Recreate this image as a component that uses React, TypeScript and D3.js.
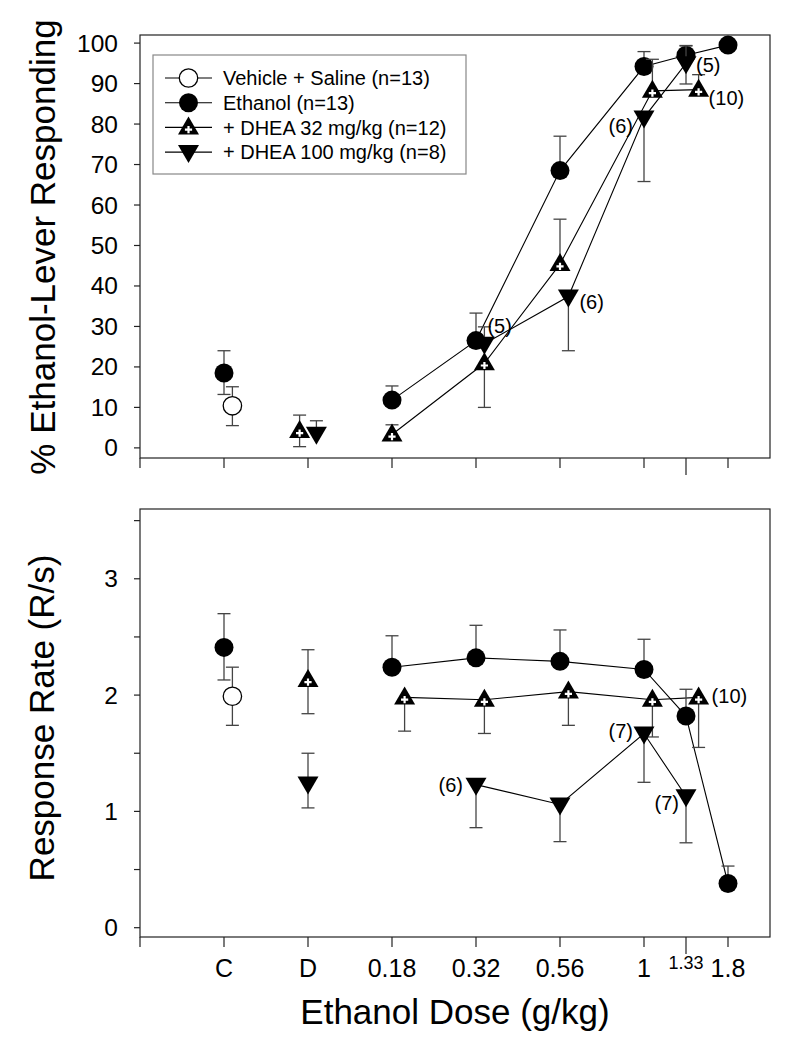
import React from "react";
import * as d3 from "d3";

// ---------- categories / ticks ----------
const categories = ["C", "D", "0.18", "0.32", "0.56", "1", "1.33", "1.8"];
const categoryPos = [1, 2, 3, 4, 5, 6, 6.5, 7];
const xTickPos = [0, 1, 2, 3, 4, 5, 6, 6.5, 7];
const topYTicks = [0, 10, 20, 30, 40, 50, 60, 70, 80, 90, 100];
const botYTicks = [0, 0.5, 1, 1.5, 2, 2.5, 3, 3.5];
const botYLabels = [0, 1, 2, 3];

const legendLabels = [
  "Vehicle + Saline (n=13)",
  "Ethanol (n=13)",
  "+ DHEA 32 mg/kg (n=12)",
  "+ DHEA 100 mg/kg (n=8)",
];
const legendKinds = ["open", "circle", "up", "down"];

// ---------- top panel: % ethanol-lever responding ----------
const topVehicleX = [1.1];
const topVehicleY = [10.4];
const topVehicleUp = [4.7];
const topVehicleDown = [4.9];

const topEthanolX = [1, 3, 4, 5, 6, 6.5, 7];
const topEthanolY = [18.5, 11.8, 26.5, 68.5, 94.2, 97.0, 99.5];
const topEthanolUp = [5.5, 3.5, 6.8, 8.5, 3.7, 2.4, 0];
const topEthanolDown = [5.3, 0, 0, 0, 0, 0, 0];

const topDhea32X = [1.9, 3, 4.1, 5, 6.1, 6.65];
const topDhea32Y = [4.2, 3.3, 20.9, 45.4, 88.2, 88.5];
const topDhea32Up = [3.9, 2.4, 0, 11.1, 7.8, 3.7];
const topDhea32Down = [3.9, 0, 10.9, 0, 0, 0];

const topDhea100X = [2.1, 4.1, 5.1, 6, 6.5];
const topDhea100Y = [3.5, 25.7, 37.4, 81.6, 95.0];
const topDhea100Up = [3.2, 4.2, 0, 0, 4.3];
const topDhea100Down = [0, 0, 13.4, 15.8, 5.1];

// ---------- bottom panel: response rate ----------
const botVehicleX = [1.1];
const botVehicleY = [1.99];
const botVehicleUp = [0.25];
const botVehicleDown = [0.25];

const botEthanolX = [1, 3, 4, 5, 6, 6.5, 7];
const botEthanolY = [2.41, 2.24, 2.32, 2.29, 2.22, 1.82, 0.38];
const botEthanolUp = [0.29, 0.27, 0.28, 0.27, 0.26, 0.23, 0.15];
const botEthanolDown = [0.28, 0, 0, 0, 0, 0, 0];

const botDhea32X = [2, 3.15, 4.1, 5.1, 6.1, 6.65];
const botDhea32Y = [2.13, 1.98, 1.96, 2.03, 1.96, 1.98];
const botDhea32Up = [0.26, 0, 0, 0, 0, 0];
const botDhea32Down = [0.29, 0.29, 0.29, 0.29, 0.32, 0.43];

const botDhea100X = [2, 4, 5, 6, 6.5];
const botDhea100Y = [1.24, 1.23, 1.06, 1.67, 1.13];
const botDhea100Up = [0.26, 0, 0, 0, 0];
const botDhea100Down = [0.21, 0.37, 0.32, 0.42, 0.4];

// n annotations: [series, point index, text]
const topNotes: [string, number, string][] = [
  ["dhea100", 1, "(5)"],
  ["dhea100", 2, "(6)"],
  ["dhea100", 3, "(6)"],
  ["dhea100", 4, "(5)"],
  ["dhea32", 5, "(10)"],
];
const botNotes: [string, number, string][] = [
  ["dhea100", 1, "(6)"],
  ["dhea100", 3, "(7)"],
  ["dhea100", 4, "(7)"],
  ["dhea32", 5, "(10)"],
];
// label placement relative to its point (layout only)
const topNoteLayout = [
  { dx: 3, dy: -18, anchor: "start" },
  { dx: 11, dy: 6, anchor: "start" },
  { dx: -11, dy: 8, anchor: "end" },
  { dx: 10, dy: 2, anchor: "start" },
  { dx: 10, dy: 8, anchor: "start" },
];
const botNoteLayout = [
  { dx: -13, dy: 0, anchor: "end" },
  { dx: -11, dy: -2, anchor: "end" },
  { dx: -7, dy: 7, anchor: "end" },
  { dx: 13, dy: -1, anchor: "start" },
];

const FONT = "'Liberation Sans', Arial, Helvetica, sans-serif";
const ERR = "#444";

type Series = {
  key: string;
  kind: string;
  x: number[];
  y: number[];
  up: number[];
  down: number[];
  lineStart: number; // first index joined by the line (-1 = none)
};

function Marker({ kind, cx, cy }: { kind: string; cx: number; cy: number }) {
  if (kind === "circle") return <circle cx={cx} cy={cy} r={9.5} fill="#000" />;
  if (kind === "open")
    return <circle cx={cx} cy={cy} r={9.2} fill="#fff" stroke="#000" strokeWidth={1.3} />;
  if (kind === "up")
    return (
      <g transform={`translate(${cx},${cy})`}>
        <path d="M0,-11 L10.5,7 L-10.5,7 Z" fill="#000" />
        <path d="M-3.6,2.2 H3.6 M0,-1.4 V5.8" stroke="#fff" strokeWidth={2.2} />
      </g>
    );
  return (
    <g transform={`translate(${cx},${cy})`}>
      <path d="M0,11 L10.5,-7 L-10.5,-7 Z" fill="#000" />
    </g>
  );
}

const L = 140,
  R = 770;
const xScale = d3.scaleLinear().domain([0, 7.5]).range([L, R]);
const yTop = d3.scaleLinear().domain([-2.5, 102]).range([458, 35]);
const yBot = d3.scaleLinear().domain([-0.08, 3.6]).range([937, 509]);

function Panel({
  series,
  y,
  notes,
  layout,
}: {
  series: Series[];
  y: d3.ScaleLinear<number, number>;
  notes: [string, number, string][];
  layout: { dx: number; dy: number; anchor: string }[];
}) {
  const x = xScale;
  const line = d3
    .line<[number, number]>()
    .x((d) => x(d[0]))
    .y((d) => y(d[1]));
  return (
    <g>
      {series.map((s) =>
        s.lineStart >= 0 ? (
          <path
            key={"l" + s.key}
            d={line(s.x.slice(s.lineStart).map((v, i) => [v, s.y[i + s.lineStart]]) as [number, number][]) || ""}
            fill="none"
            stroke="#000"
            strokeWidth={1.1}
          />
        ) : null
      )}
      {series.map((s) => (
        <g key={"s" + s.key}>
          {s.x.map((xv, i) => {
            const cx = x(xv);
            const cy = y(s.y[i]);
            const parts = [];
            if (s.up[i] > 0) {
              const ty = y(s.y[i] + s.up[i]);
              parts.push(
                <g key="u">
                  <line x1={cx} x2={cx} y1={cy} y2={ty} stroke={ERR} strokeWidth={1.3} />
                  <line x1={cx - 6.5} x2={cx + 6.5} y1={ty} y2={ty} stroke={ERR} strokeWidth={1.3} />
                </g>
              );
            }
            if (s.down[i] > 0) {
              const by = y(s.y[i] - s.down[i]);
              parts.push(
                <g key="d">
                  <line x1={cx} x2={cx} y1={cy} y2={by} stroke={ERR} strokeWidth={1.3} />
                  <line x1={cx - 6.5} x2={cx + 6.5} y1={by} y2={by} stroke={ERR} strokeWidth={1.3} />
                </g>
              );
            }
            return <g key={i}>{parts}</g>;
          })}
          {s.x.map((xv, i) => (
            <Marker key={"m" + i} kind={s.kind} cx={x(xv)} cy={y(s.y[i])} />
          ))}
        </g>
      ))}
      {notes.map(([key, idx, text], k) => {
        const s = series.find((q) => q.key === key)!;
        const lay = layout[k];
        return (
          <text
            key={"n" + k}
            x={x(s.x[idx]) + lay.dx}
            y={y(s.y[idx]) + lay.dy + 7}
            textAnchor={lay.anchor as any}
            fontSize={20}
            fontFamily={FONT}
          >
            {text}
          </text>
        );
      })}
    </g>
  );
}

function Frame({ top, bottom }: { top: number; bottom: number }) {
  return (
    <g>
      <rect x={L} y={top} width={R - L} height={bottom - top} fill="none" stroke="#222" strokeWidth={1.2} />
      {xTickPos.map((t) => (
        <line
          key={t}
          x1={xScale(t)}
          x2={xScale(t)}
          y1={bottom}
          y2={bottom + (t === 6.5 ? 17 : 10)}
          stroke="#222"
          strokeWidth={1.2}
        />
      ))}
    </g>
  );
}

export default function App() {
  const topSeries: Series[] = [
    { key: "veh", kind: "open", x: topVehicleX, y: topVehicleY, up: topVehicleUp, down: topVehicleDown, lineStart: -1 },
    { key: "eth", kind: "circle", x: topEthanolX, y: topEthanolY, up: topEthanolUp, down: topEthanolDown, lineStart: 1 },
    { key: "dhea32", kind: "up", x: topDhea32X, y: topDhea32Y, up: topDhea32Up, down: topDhea32Down, lineStart: 1 },
    { key: "dhea100", kind: "down", x: topDhea100X, y: topDhea100Y, up: topDhea100Up, down: topDhea100Down, lineStart: 1 },
  ];
  const botSeries: Series[] = [
    { key: "veh", kind: "open", x: botVehicleX, y: botVehicleY, up: botVehicleUp, down: botVehicleDown, lineStart: -1 },
    { key: "eth", kind: "circle", x: botEthanolX, y: botEthanolY, up: botEthanolUp, down: botEthanolDown, lineStart: 1 },
    { key: "dhea32", kind: "up", x: botDhea32X, y: botDhea32Y, up: botDhea32Up, down: botDhea32Down, lineStart: 1 },
    { key: "dhea100", kind: "down", x: botDhea100X, y: botDhea100Y, up: botDhea100Up, down: botDhea100Down, lineStart: 1 },
  ];

  return (
    <svg
      width={792}
      height={1050}
      style={{ position: "absolute", left: 0, top: 0, background: "#fff" }}
      fontFamily={FONT}
    >
      <rect x={0} y={0} width={792} height={1050} fill="#fff" />
      {/* top panel */}
      <Frame top={35} bottom={458} />
      {topYTicks.map((t) => (
        <g key={"ty" + t}>
          <line x1={L - 6} x2={L} y1={yTop(t)} y2={yTop(t)} stroke="#222" strokeWidth={1.2} />
          <text x={118} y={yTop(t) + 8.5} textAnchor="end" fontSize={24.5}>
            {t}
          </text>
        </g>
      ))}
      <text transform={`translate(55,247) rotate(-90)`} textAnchor="middle" fontSize={35}>
        % Ethanol-Lever Responding
      </text>
      <Panel series={topSeries} y={yTop} notes={topNotes} layout={topNoteLayout} />

      {/* legend */}
      <rect x={153} y={55} width={313} height={119} fill="#fff" stroke="#888" strokeWidth={1.2} />
      {legendLabels.map((lab, i) => {
        const cy = 78 + i * 24.7;
        return (
          <g key={"lg" + i}>
            <line x1={165} x2={212} y1={cy} y2={cy} stroke="#000" strokeWidth={1.1} />
            <Marker kind={legendKinds[i]} cx={188.5} cy={cy} />
            <text x={223} y={cy + 7.3} fontSize={20}>
              {lab}
            </text>
          </g>
        );
      })}

      {/* bottom panel */}
      <Frame top={509} bottom={937} />
      {botYTicks.map((t) => (
        <line key={"by" + t} x1={L - 6} x2={L} y1={yBot(t)} y2={yBot(t)} stroke="#222" strokeWidth={1.2} />
      ))}
      {botYLabels.map((t) => (
        <text key={"bl" + t} x={118} y={yBot(t) + 8.5} textAnchor="end" fontSize={24.5}>
          {t}
        </text>
      ))}
      <text transform={`translate(54,718) rotate(-90)`} textAnchor="middle" fontSize={35}>
        Response Rate (R/s)
      </text>
      <Panel series={botSeries} y={yBot} notes={botNotes} layout={botNoteLayout} />

      {/* x tick labels */}
      {categories.map((c, i) => (
        <text
          key={"xc" + c}
          x={xScale(categoryPos[i])}
          y={c === "1.33" ? 969 : 977}
          textAnchor="middle"
          fontSize={c === "1.33" ? 18 : 25}
        >
          {c}
        </text>
      ))}
      <text x={455} y={1024} textAnchor="middle" fontSize={35}>
        Ethanol Dose (g/kg)
      </text>
    </svg>
  );
}
